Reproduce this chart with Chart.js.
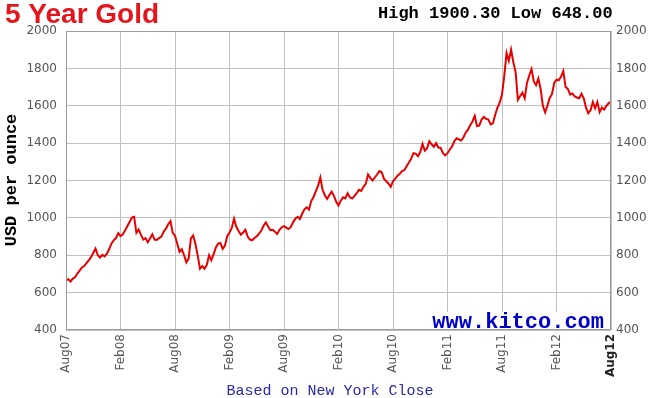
<!DOCTYPE html>
<html>
<head>
<meta charset="utf-8">
<script src="https://cdn.jsdelivr.net/npm/chart.js@4.4.0/dist/chart.umd.min.js"></script>
<style>
  html, body { margin: 0; padding: 0; background: #fff; }
</style>
</head>
<body>
<canvas id="grafico" width="652" height="398"></canvas>
<script>
// etichette asse x, una ogni 6 mesi
var mesi_etichette = ['Aug07', 'Feb08', 'Aug08', 'Feb09', 'Aug09', 'Feb10', 'Aug10', 'Feb11', 'Aug11', 'Feb12', 'Aug12'];
// etichette asse y
var y_etichette = [400, 600, 800, 1000, 1200, 1400, 1600, 1800, 2000];

// prezzi oro, 4 valori al mese da agosto 2007 ad agosto 2012
var prezzi = [
  665, 672, 660, 675,      // Aug07
  682, 702, 718, 735,      // Sep07
  742, 758, 772, 790,      // Oct07
  812, 836, 800, 788,      // Nov07
  802, 794, 808, 832,      // Dec07
  862, 880, 892, 918,      // Jan08
  902, 912, 932, 955,      // Feb08
  978, 1002, 1006, 920,    // Mar08
  938, 910, 884, 892,      // Apr08
  870, 890, 912, 884,      // May08
  882, 892, 900, 926,      // Jun08
  942, 966, 982, 920,      // Jul08
  905, 862, 818, 832,      // Aug08
  800, 762, 782, 890,      // Sep08
  906, 860, 798, 728,      // Oct08
  742, 728, 748, 800,      // Nov08
  774, 806, 842, 862,      // Dec08
  866, 834, 852, 902,      // Jan09
  922, 946, 996, 952,      // Feb09
  930, 910, 922, 936,      // Mar09
  900, 884, 880, 892,      // Apr09
  902, 916, 932, 958,      // May09
  976, 954, 934, 936,      // Jun09
  926, 914, 936, 950,      // Jul09
  956, 948, 940, 952,      // Aug09
  976, 996, 1006, 994,     // Sep09
  1022, 1046, 1056, 1044,  // Oct09
  1090, 1112, 1142, 1172,  // Nov09
  1216, 1150, 1120, 1102,  // Dec09
  1122, 1140, 1118, 1086,  // Jan10
  1066, 1092, 1110, 1104,  // Feb10
  1132, 1110, 1104, 1116,  // Mar10
  1132, 1150, 1144, 1166,  // Apr10
  1182, 1232, 1214, 1200,  // May10
  1216, 1232, 1250, 1244,  // Jun10
  1210, 1196, 1184, 1166,  // Jul10
  1196, 1210, 1226, 1236,  // Aug10
  1250, 1256, 1276, 1296,  // Sep10
  1316, 1346, 1344, 1330,  // Oct10
  1352, 1396, 1360, 1372,  // Nov10
  1410, 1394, 1380, 1400,  // Dec10
  1376, 1374, 1346, 1334,  // Jan11
  1346, 1366, 1382, 1410,  // Feb11
  1426, 1420, 1414, 1430,  // Mar11
  1456, 1472, 1496, 1516,  // Apr11
  1546, 1490, 1494, 1526,  // May11
  1540, 1530, 1526, 1500,  // Jun11
  1506, 1552, 1590, 1616,  // Jul11
  1660, 1760, 1882, 1840,  // Aug11
  1900, 1832, 1780, 1632,  // Sep11
  1652, 1670, 1640, 1722,  // Oct11
  1762, 1796, 1730, 1710,  // Nov11
  1746, 1690, 1600, 1564,  // Dec11
  1600, 1642, 1662, 1722,  // Jan12
  1740, 1736, 1756, 1786,  // Feb12
  1700, 1690, 1660, 1666,  // Mar12
  1650, 1644, 1640, 1664,  // Apr12
  1640, 1590, 1560, 1576,  // May12
  1620, 1586, 1620, 1566,  // Jun12
  1590, 1580, 1600, 1614,  // Jul12
  1620                     // Aug12
];

var titolo = '5 Year Gold';
var massimo_minimo = 'High 1900.30 Low 648.00';
var titolo_y = 'USD per ounce';
var nota = 'Based on New York Close';
var sito = 'www.kitco.com';

// punti {x: mesi dall'inizio, y: prezzo}
var punti = [];
for (var i = 0; i < prezzi.length; i++) {
  punti.push({ x: i / 4, y: prezzi[i] });
}

var font_tick = { family: 'DejaVu Sans', size: 12 };

// plugin per i testi intorno al grafico
var testi = {
  id: 'testi',
  afterDraw: function(chart) {
    var ctx = chart.ctx;
    var a = chart.chartArea;
    ctx.save();
    // cornice
    ctx.strokeStyle = '#9a9a9a';
    ctx.lineWidth = 1;
    ctx.strokeRect(a.left + 0.5, a.top + 0.5, a.right - a.left - 1, a.bottom - a.top - 1);

    ctx.fillStyle = '#e3161d';
    ctx.font = 'bold 28px "Liberation Sans"';
    ctx.textBaseline = 'alphabetic';
    ctx.textAlign = 'left';
    ctx.fillText(titolo, 5, 23);

    ctx.fillStyle = '#000';
    ctx.font = 'bold 17px "Liberation Mono"';
    ctx.fillText(massimo_minimo, 378, 18);

    // sito
    ctx.font = 'bold 22px "Liberation Mono"';
    var w = ctx.measureText(sito).width;
    ctx.fillStyle = '#fff';
    ctx.fillRect(604 - w - 2, 312, w + 4, a.bottom - 313);
    ctx.fillStyle = '#0000cc';
    ctx.textAlign = 'right';
    ctx.fillText(sito, 604, 328);

    ctx.fillStyle = '#2a2aa8';
    ctx.font = '15px "Liberation Mono"';
    ctx.textAlign = 'center';
    ctx.fillText(nota, 330, 395);

    ctx.fillStyle = '#000';
    ctx.font = 'bold 17px "Liberation Mono"';
    ctx.translate(16, 180);
    ctx.rotate(-Math.PI / 2);
    ctx.textAlign = 'center';
    ctx.fillText(titolo_y, 0, 0);
    ctx.restore();
  }
};

var ctx = document.getElementById('grafico').getContext('2d');
var chart = new Chart(ctx, {
  type: 'line',
  data: {
    datasets: [{
      data: punti,
      borderColor: '#e60000',
      borderWidth: 2,
      pointRadius: 0,
      fill: false,
      tension: 0
    }]
  },
  options: {
    responsive: false,
    animation: false,
    layout: { padding: { top: 31, left: 0, right: 0, bottom: 0 } },
    plugins: { legend: { display: false }, tooltip: { enabled: false } },
    scales: {
      x: {
        type: 'linear',
        min: 0,
        max: 60,
        afterFit: function(s) { s.height = 68; },
        afterBuildTicks: function(s) {
          s.ticks = mesi_etichette.map(function(m, k) { return { value: k * 6 }; });
        },
        ticks: {
          autoSkip: false,
          minRotation: 90,
          maxRotation: 90,
          padding: 4,
          color: function(c) { return c.index === mesi_etichette.length - 1 ? '#222' : '#555'; },
          font: function(c) {
            return { family: 'DejaVu Sans', size: 12, weight: c.index === mesi_etichette.length - 1 ? 'bold' : 'normal' };
          },
          callback: function(v) { return mesi_etichette[Math.round(v / 6)]; }
        },
        grid: { color: '#c0c0c0', drawTicks: false },
        border: { display: false }
      },
      y: {
        position: 'left',
        min: 400,
        max: 2000,
        afterFit: function(s) { s.width = 66; },
        afterBuildTicks: function(s) {
          s.ticks = y_etichette.map(function(v) { return { value: v }; });
        },
        ticks: { padding: 9, color: '#555', font: font_tick, callback: function(v) { return String(v); } },
        grid: { color: '#c0c0c0', drawTicks: false },
        border: { display: false }
      },
      y2: {
        position: 'right',
        min: 400,
        max: 2000,
        afterFit: function(s) { s.width = 41; },
        afterBuildTicks: function(s) {
          s.ticks = y_etichette.map(function(v) { return { value: v }; });
        },
        ticks: { padding: 5, color: '#555', font: font_tick, callback: function(v) { return String(v); } },
        grid: { drawOnChartArea: false, drawTicks: false },
        border: { display: false }
      }
    }
  },
  plugins: [testi]
});
</script>
</body>
</html>
